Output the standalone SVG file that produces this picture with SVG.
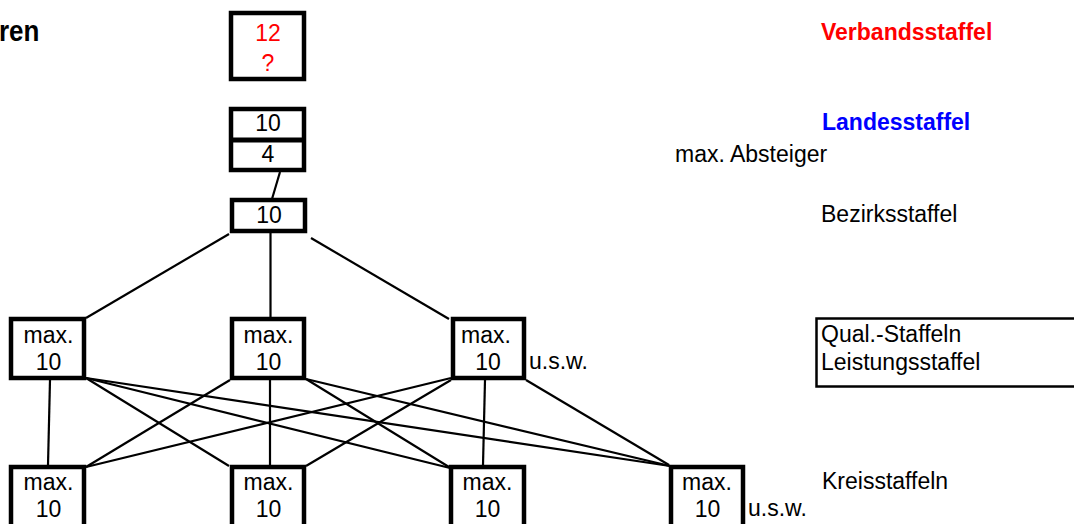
<svg xmlns="http://www.w3.org/2000/svg" width="1074" height="524" viewBox="0 0 1074 524">
<style>
.box{fill:#fff;stroke:#000;stroke-width:4.5}
.t{font-family:"Liberation Sans",Arial,sans-serif;font-size:23px;fill:#000}
.c{text-anchor:middle}
.b{font-weight:bold}
.conn line{stroke:#000;stroke-width:2.2}
</style>
<rect width="1074" height="524" fill="#fff"/>
<text class="t b" transform="translate(-1,41) scale(1,1.12)" style="font-size:26px">ren</text>
<g id="connectors" class="conn">
<line x1="280" y1="172" x2="272" y2="199"/>
<line x1="229" y1="234" x2="86" y2="318"/>
<line x1="270.5" y1="233" x2="270.5" y2="317" stroke-width="3"/>
<line x1="311" y1="238" x2="449" y2="319"/>
<line x1="50" y1="380" x2="48" y2="465"/>
<line x1="86" y1="378" x2="229" y2="466"/>
<line x1="86" y1="378" x2="450" y2="468"/>
<line x1="86" y1="378" x2="670" y2="466"/>
<line x1="230" y1="380" x2="86" y2="467"/>
<line x1="270" y1="380" x2="270" y2="465" stroke-width="3"/>
<line x1="306" y1="379" x2="449" y2="467"/>
<line x1="306" y1="379" x2="670" y2="466"/>
<line x1="451" y1="378" x2="86" y2="467"/>
<line x1="451" y1="380" x2="306" y2="466"/>
<line x1="485" y1="380" x2="483" y2="465"/>
<line x1="526" y1="380" x2="669" y2="465"/>
</g>
<g id="verband">
<rect class="box" x="231" y="13" width="73" height="66"/>
<text class="t c" x="268" y="41" style="fill:#f00">12</text>
<text class="t c" x="268" y="71" style="fill:#f00">?</text>
</g>
<g id="landes">
<rect class="box" x="231" y="109" width="73" height="61"/>
<line x1="229" y1="140" x2="306" y2="140" stroke="#000" stroke-width="5"/>
<text class="t c" x="268" y="131">10</text>
<text class="t c" x="268" y="162">4</text>
</g>
<g id="bezirk">
<rect class="box" x="232" y="200" width="73" height="31"/>
<text class="t c" x="269" y="223">10</text>
</g>
<g id="qual1">
<rect class="box" x="11" y="319" width="73" height="59"/>
<text class="t c" x="48.5" y="343">max.</text>
<text class="t c" x="48.5" y="370">10</text>
</g>
<g id="qual2">
<rect class="box" x="232" y="319" width="72" height="59"/>
<text class="t c" x="268.5" y="343">max.</text>
<text class="t c" x="268.5" y="370">10</text>
</g>
<g id="qual3">
<rect class="box" x="453" y="319" width="71" height="59"/>
<text class="t c" x="486" y="343">max.</text>
<text class="t c" x="488" y="370">10</text>
<text class="t" x="529" y="369">u.s.w.</text>
</g>
<g id="kreis1">
<rect class="box" x="11" y="467" width="73" height="70"/>
<text class="t c" x="48.5" y="490">max.</text>
<text class="t c" x="48.5" y="517">10</text>
</g>
<g id="kreis2">
<rect class="box" x="232" y="467" width="72" height="70"/>
<text class="t c" x="268.5" y="490">max.</text>
<text class="t c" x="268.5" y="517">10</text>
</g>
<g id="kreis3">
<rect class="box" x="451" y="467" width="73" height="70"/>
<text class="t c" x="487.5" y="490">max.</text>
<text class="t c" x="487.5" y="517">10</text>
</g>
<g id="kreis4">
<rect class="box" x="671" y="467" width="72" height="70"/>
<text class="t c" x="707" y="490">max.</text>
<text class="t c" x="707.5" y="517">10</text>
<text class="t" x="748" y="516">u.s.w.</text>
</g>
<g id="labels">
<text class="t b" x="821" y="40" style="fill:#f00">Verbandsstaffel</text>
<text class="t b" x="822" y="130" style="fill:#00f">Landesstaffel</text>
<text class="t" x="675" y="162">max. Absteiger</text>
<text class="t" x="821" y="222">Bezirksstaffel</text>
<rect x="816.5" y="318.5" width="270" height="68" fill="none" stroke="#000" stroke-width="2.5"/>
<text class="t" x="821" y="342">Qual.-Staffeln</text>
<text class="t" x="821" y="370">Leistungsstaffel</text>
<text class="t" x="822" y="489">Kreisstaffeln</text>
</g>
</svg>
